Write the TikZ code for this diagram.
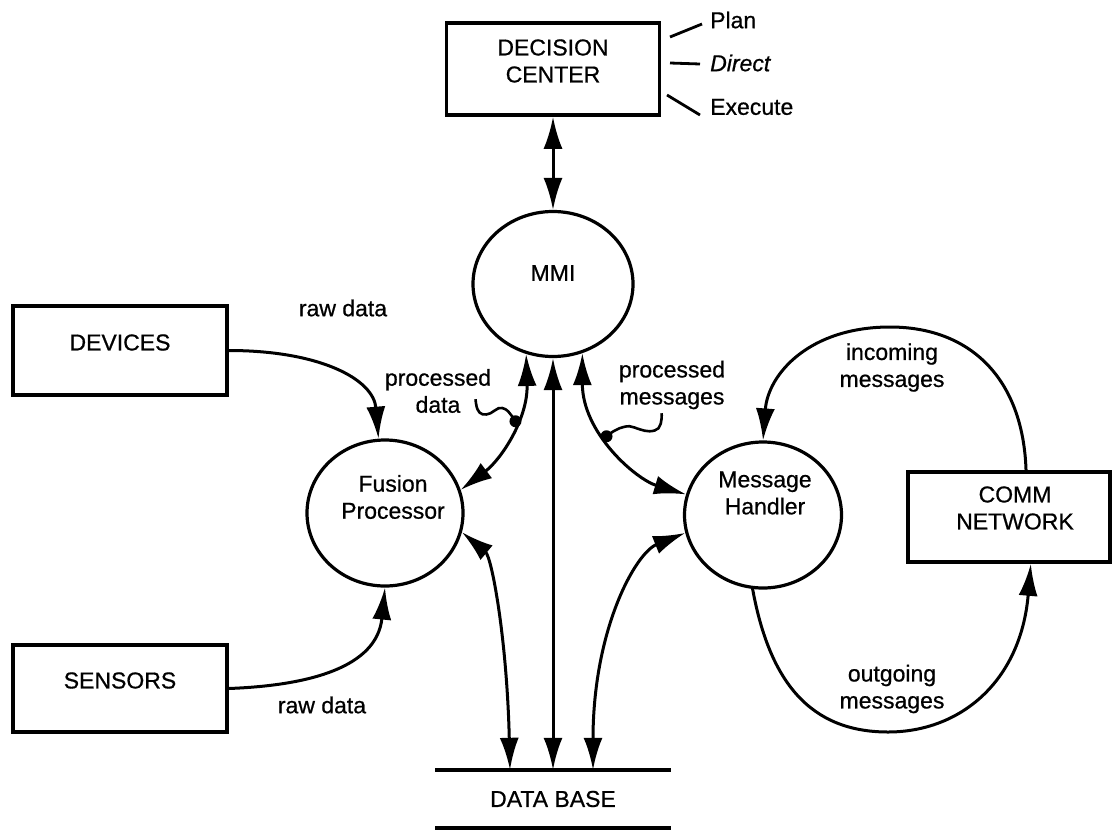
\documentclass[tikz,border=0pt]{standalone}
\usepackage{fontspec}
\setmainfont{Liberation Sans}[FakeBold=0.7]
\usetikzlibrary{arrows.meta,calc,shapes.geometric}
\newcommand\lblfont{\fontsize{23}{27}\selectfont}
\begin{document}
\begin{tikzpicture}[x=1pt,y=-1pt, >={Latex[length=32pt,width=19pt]},
 box/.style={draw, line width=3.6pt, inner sep=0pt},
 bubble/.style={draw, ellipse, line width=3.2pt, inner sep=0pt},
 txt/.style={align=center, font=\lblfont, inner sep=0pt},
 flow/.style={line width=3pt},
 dot/.style={circle, fill, inner sep=0pt, minimum size=12pt},
 tick/.style={line width=2.8pt},
 squig/.style={line width=2.6pt}]
\useasboundingbox (0,0) rectangle (1113,830);

% boxes
\node[box, minimum width=213pt, minimum height=92pt,
      label={[txt,yshift=8pt]center:DECISION\\CENTER}] (dc) at (553,69) {};
\node[box, minimum width=214pt, minimum height=89pt,
      label={[txt,yshift=8pt]center:DEVICES}] (dev) at (120,350.5) {};
\node[box, minimum width=214pt, minimum height=87pt,
      label={[txt,yshift=8pt]center:SENSORS}] (sen) at (120,688.5) {};
\node[box, minimum width=202pt, minimum height=90pt,
      label={[txt,xshift=6pt,yshift=9pt]center:COMM\\NETWORK}] (comm) at (1009,517) {};

% bubbles
\node[bubble, minimum width=160pt, minimum height=145pt,
      label={[txt,yshift=11pt]center:MMI}] (mmi) at (553,284) {};
\node[bubble, minimum width=156pt, minimum height=146pt,
      label={[txt,xshift=8pt,yshift=16pt]center:Fusion\\Processor}] (fp) at (385,513) {};
\node[bubble, minimum width=157pt, minimum height=146pt,
      label={[txt,xshift=2pt,yshift=22pt]center:Message\\Handler}] (mh) at (763,515) {};

% data base
\node[txt, minimum width=235pt, minimum height=58pt] (db) at (553,799) {DATA BASE};
\draw[line width=3.6pt] (db.north west) -- (db.north east);
\draw[line width=3.6pt] (db.south west) -- (db.south east);
\coordinate (dbL) at ($(db.north)+(-43,0)$);
\coordinate (dbR) at ($(db.north)+(40,0)$);

% plan / direct / execute
\node[txt, anchor=west] (plan) at (710,20) {Plan};
\node[txt, anchor=west] (direct) at (710,63) {\itshape Direct};
\node[txt, anchor=west] (exec) at (710,107) {Execute};
\draw[tick] ($(plan.west)+(-40,17)$) -- ($(plan.west)+(-8,4)$);
\draw[tick] ($(direct.west)+(-40,0)$) -- ($(direct.west)+(-10,1)$);
\draw[tick] ($(exec.west)+(-43,-12)$) -- ($(exec.west)+(-10,8)$);

% labels
\node[txt] (rawtop) at (343,308) {raw data};
\node[txt] (rawbot) at (322,705) {raw data};
\node[txt] (pdata) at (438,391) {processed\\data};
\node[txt] (pmsg) at (672,385) {processed\\messages};
\node[txt] (inmsg) at (892,367.5) {incoming\\messages};
\node[txt] (outmsg) at (892,689) {outgoing\\messages};

% connectors
\draw[flow,<->] (dc.south) -- (mmi.north);
\draw[flow,->] (dev.east) .. controls ($(dev.east)+(90,0)$) and ($(fp.95)+(-5,-60)$) .. (fp.95);
\draw[flow,->] (sen.east) .. controls ($(sen.east)+(80,-3)$) and ($(fp.south)+(-8,80)$) .. (fp.south);
\draw[flow,<->] (mmi.249) .. controls ($(mmi.249)+(2,65)$) and ($(fp.17)+(40,-30)$) .. (fp.17)
   node[dot,pos=0.4] (d1) {};
\draw[flow,<->] (mmi.south) -- (db.north);
\draw[flow,<->] (fp.346) .. controls ($(fp.346)+(30,25)$) and ($(dbL)+(-3,-130)$) .. (dbL);
\draw[flow,<->] (mmi.293) .. controls ($(mmi.293)+(0,80)$) and ($(mh.165)+(-50,-15)$) .. (mh.165)
   node[dot,pos=0.42] (d2) {};
\draw[flow,<->] (mh.193) .. controls ($(mh.193)+(-50,20)$) and ($(dbR)+(0,-140)$) .. (dbR);

\coordinate (intop) at (890,327);
\draw[flow,->] (comm.70) .. controls ($(comm.70)+(-3,-92)$) and ($(intop)+(80,0)$) .. (intop)
   .. controls ($(intop)+(-80,0)$) and ($(mh.north)+(5,-67)$) .. (mh.north);
\coordinate (outbot) at (888,732);
\draw[flow,->] (mh.262) .. controls ($(mh.262)+(17,93)$) and ($(outbot)+(-78,0)$) .. (outbot)
   .. controls ($(outbot)+(72,0)$) and ($(comm.295)+(-10,118)$) .. (comm.295);

% squiggles
\begin{scope}[shift={(d1)}]
\draw[squig] plot[smooth, tension=0.7] coordinates {(0,0) (-5,-7) (-10,-12) (-17,-13) (-25,-8) (-33,-7) (-38,-12) (-40,-22)};
\end{scope}
\begin{scope}[shift={(d2)}]
\draw[squig] plot[smooth, tension=0.7] coordinates {(0,0) (7,-5) (13,-8) (23,-10) (33,-7) (43,-5) (52,-8) (55,-17) (55,-23)};
\end{scope}
\end{tikzpicture}
\end{document}
